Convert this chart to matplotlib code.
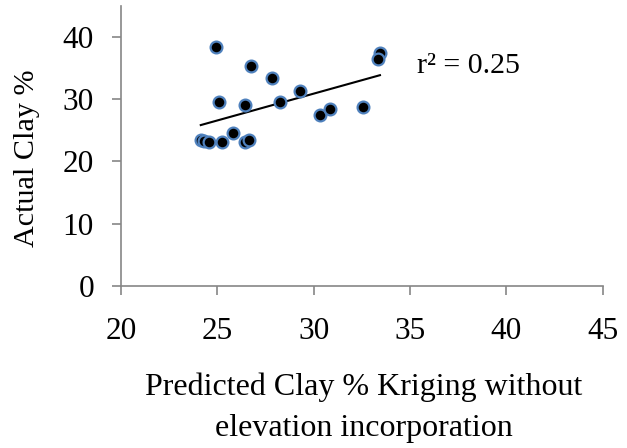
import numpy as np
import matplotlib
matplotlib.use("Agg")
import matplotlib.pyplot as plt

predicted = [24.91, 26.73, 27.82, 29.29, 25.10, 26.45, 28.25, 30.33, 30.85, 32.56,
             33.44, 33.32, 24.14, 24.31, 24.55, 25.24, 25.81, 26.45, 26.64]
actual = [38.5, 35.4, 33.45, 31.4, 29.53, 29.1, 29.53, 27.49, 28.5, 28.73,
          37.52, 36.46, 23.46, 23.35, 23.09, 23.09, 24.59, 23.09, 23.51]
x_ticks = [20, 25, 30, 35, 40, 45]
y_ticks = [0, 10, 20, 30, 40]
r2_label = "r² = 0.25"
x_label = "Predicted Clay % Kriging without\nelevation incorporation"
y_label = "Actual Clay %"

plt.rcParams['font.family'] = ['Liberation Serif', 'DejaVu Serif']

W, H = 627, 448
fig = plt.figure(figsize=(W / 100, H / 100), dpi=100)
ax = fig.add_axes([121 / W, 1 - 285.7 / H, (602.7 - 121) / W, (285.7 - 6.25) / H])

xs = np.array(predicted)
ys = np.array(actual)
slope, intercept = np.polyfit(xs, ys, 1)
xl = np.array([xs.min(), xs.max()])
ax.plot(xl, slope * xl + intercept, color='black', lw=1.5, zorder=2)

ax.scatter(xs, ys, s=72, facecolor='black', edgecolor='#4F81BD', linewidths=1.6, zorder=3)

ax.set_xlim(20, 45)
ax.set_ylim(0, 45)
ax.set_xticks(x_ticks)
ax.set_yticks(y_ticks)
ax.tick_params(direction='out', length=6.5, width=1.2, color='#868686', labelsize=22.5)
ax.tick_params(axis='x', pad=16)
ax.tick_params(axis='y', pad=13)
for s in ['top', 'right']:
    ax.spines[s].set_visible(False)
for s in ['left', 'bottom']:
    ax.spines[s].set_color('#868686')
    ax.spines[s].set_linewidth(1.2)

lines = x_label.split('\n')
fig.text(364 / W, 1 - 395 / H, lines[0], fontsize=23, ha='center', va='baseline')
fig.text(364 / W, 1 - 436 / H, lines[1], fontsize=23, ha='center', va='baseline')
fig.text(27 / W, 1 - 158.5 / H, y_label, fontsize=21.7, rotation=90, ha='center', va='center')
ax.text(35.36, 34.25, r2_label, fontsize=21.5, va='baseline', ha='left')

fig.savefig("out.png", dpi=100)
